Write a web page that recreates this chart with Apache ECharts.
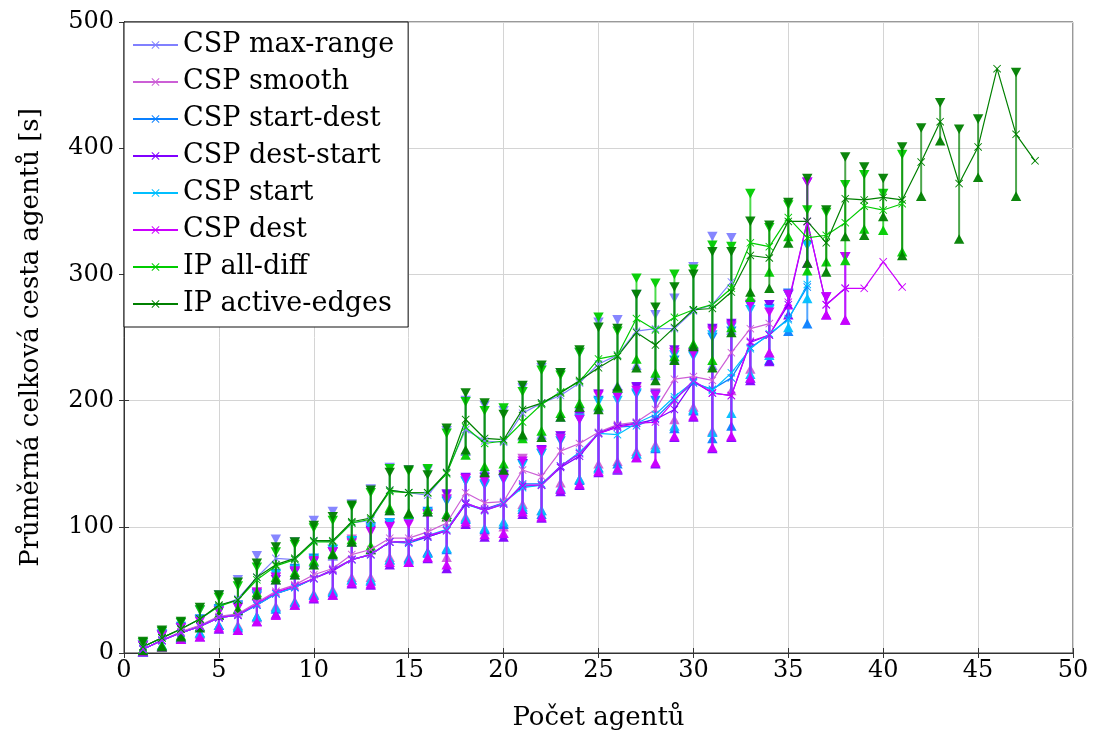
<!DOCTYPE html>
<html>
<head>
<meta charset="utf-8">
<script src="https://cdn.jsdelivr.net/npm/echarts@6/dist/echarts.min.js"></script>
<style>
html,body{margin:0;padding:0;background:#fff;}
#chart{width:1100px;height:738px;}
</style>
</head>
<body>
<div id="chart"></div>
<script>
// ---------- data ----------
const agents = [1,2,3,4,5,6,7,8,9,10,11,12,13,14,15,16,17,18,19,20,21,22,23,24,25,26,27,28,29,30,31,32,33,34,35,36,37,38,39,40,41,42,43,44,45,46,47,48];
const seriesNames = ['CSP max-range','CSP smooth','CSP start-dest','CSP dest-start','CSP start','CSP dest','IP all-diff','IP active-edges'];
const xTicks = [0,5,10,15,20,25,30,35,40,45,50];
const yTicks = [0,100,200,300,400,500];

const maxRangeMean = [5,12,19,27,37,43,60,75,74,89,88,103,105,129,127,125,143,177,168,167,190,198,204,214,229,236,255,257,257,271,276,294];
const maxRangeHigh = [8,17,24,34,46,58,77,90,88,105,112,118,130,147,145,145,176,200,196,192,210,226,222,238,262,264,284,268,281,306,330,329];
const maxRangeLow  = [2,6,13,21,30,33,45,58,62,72,77,88,82,113,110,112,110,160,146,147,172,173,187,197,195,212,228,220,233,244,228,256];

const smoothMean = [3,10,17,22,29,31,40,49,54,62,67,78,82,91,91,96,103,127,119,120,145,140,160,166,175,181,183,193,217,219,216,238,257,261];
const smoothHigh = [6,14,20,26,34,37,48,60,65,74,80,90,98,103,104,110,125,138,137,139,154,160,172,187,205,204,210,206,238,236,256,260,277,276];
const smoothLow  = [1,6,12,15,22,22,28,37,41,47,50,60,60,76,76,80,76,108,97,100,118,113,135,138,150,152,160,165,185,195,176,208,225,238];

const startDestMean = [3,10,16,21,28,30,38,47,52,59,66,74,78,88,87,92,97,118,113,118,134,134,148,158,174,179,180,186,201,214,209,218,242,252,265,290];
const startDestHigh = [6,15,21,27,35,38,47,63,67,75,82,89,100,103,104,112,120,136,133,138,150,158,168,185,200,203,205,200,232,236,250,255,275,273,285,323];
const startDestLow  = [1,6,12,16,22,20,29,35,40,46,48,58,57,74,75,80,82,106,98,102,114,110,130,137,147,150,158,162,178,192,170,180,218,232,255,261];

const destStartMean = [3,10,16,21,28,30,38,47,52,59,65,74,78,88,88,92,97,118,114,119,132,133,147,156,174,180,182,185,193,215,206,204,246,252,276,342,276,289];
const destStartHigh = [6,14,20,26,33,36,45,58,64,72,80,88,97,101,103,110,126,139,139,141,150,161,172,188,205,205,211,205,240,238,257,261,276,276,284,373,282,314];
const destStartLow  = [1,5,11,13,19,18,25,31,38,43,46,55,54,70,72,75,67,102,92,92,110,107,128,133,143,145,155,150,171,187,162,171,216,231,268,309,268,264];

const startMean = [3,10,16,21,28,30,38,47,52,59,66,74,78,88,88,93,98,119,113,119,131,133,148,159,174,173,182,189,203,215,208,222,241,253,264,292];
const startHigh = [6,14,20,26,34,37,46,62,66,74,82,89,99,103,104,111,121,136,134,137,149,158,170,186,199,200,206,204,236,235,252,258,272,272,284,323];
const startLow  = [1,6,12,16,22,21,29,36,40,46,49,58,58,74,74,79,83,107,99,104,116,113,131,138,146,146,158,163,180,193,175,190,221,236,258,281];

const destMean = [3,10,16,21,28,30,39,48,53,59,66,74,78,88,88,93,97,119,113,118,133,133,148,158,174,179,182,183,200,216,206,204,247,252,278,342,276,289,289,310,290];
const destHigh = [6,14,20,25,33,36,48,60,65,73,80,87,96,100,102,110,122,138,136,138,152,160,170,185,204,203,208,204,238,237,255,259,276,270,284,373,282,314,null,null,null];
const destLow  = [1,5,11,13,20,18,25,30,38,44,46,56,55,72,72,76,70,104,94,95,112,108,130,134,144,146,155,151,172,188,163,172,218,238,276,309,268,264,null,null,null];

const allDiffMean = [5,12,19,27,37,42,58,69,74,88,88,103,106,128,127,127,142,179,166,168,183,197,207,215,233,236,265,256,266,272,276,289,325,322,345,329,331,341,354,351,356];
const allDiffHigh = [8,17,24,34,44,53,68,80,86,99,105,116,127,146,144,146,174,199,192,194,207,224,220,238,266,255,297,293,300,304,323,322,364,337,355,351,349,371,379,364,395];
const allDiffLow  = [3,6,14,21,31,35,48,60,64,73,79,90,85,115,110,114,110,157,148,150,170,176,190,198,196,210,233,222,235,245,232,258,282,302,330,303,310,311,336,335,318];

const activeEdgesMean = [5,12,19,27,38,42,60,70,75,89,89,104,107,129,127,127,143,185,170,169,193,198,206,216,226,235,254,244,258,272,273,286,315,313,342,342,325,360,359,361,359,389,421,372,401,463,411,390];
const activeEdgesHigh = [9,18,25,36,46,56,71,84,88,101,108,117,129,143,145,141,178,206,198,189,212,228,222,240,258,257,284,274,290,300,318,318,342,339,357,376,351,393,385,376,401,416,436,415,423,null,460,null];
const activeEdgesLow  = [2,5,13,20,30,34,46,58,62,70,78,88,82,113,111,112,108,161,143,145,173,171,187,195,193,211,226,216,232,243,226,254,286,289,325,309,302,330,331,346,315,362,406,328,377,null,362,null];

const means = [maxRangeMean, smoothMean, startDestMean, destStartMean, startMean, destMean, allDiffMean, activeEdgesMean];
const highs = [maxRangeHigh, smoothHigh, startDestHigh, destStartHigh, startHigh, destHigh, allDiffHigh, activeEdgesHigh];
const lows  = [maxRangeLow, smoothLow, startDestLow, destStartLow, startLow, destLow, allDiffLow, activeEdgesLow];

// ---------- style ----------
const colors = ['#8080ff','#cc5fd6','#0a80ff','#8000ff','#00bfff','#cc00ff','#00cc00','#008000'];
const FONT = 'DejaVu Serif';
const xSymbol = 'path://M0,0.8L0.8,0L5,4.2L9.2,0L10,0.8L5.8,5L10,9.2L9.2,10L5,5.8L0.8,10L0,9.2L4.2,5Z';

function errRender(color){
  return function(params, api){
    const x = api.value(0), hi = api.value(1), lo = api.value(2);
    if (hi == null || lo == null || isNaN(hi) || isNaN(lo)) return null;
    const pH = api.coord([x, hi]);
    const pL = api.coord([x, lo]);
    const w = 5.2, h = 4.8;
    return {
      type: 'group',
      children: [
        {type:'line', shape:{x1:pH[0], y1:pH[1], x2:pL[0], y2:pL[1]}, style:{stroke:color, lineWidth:2, opacity:0.7}},
        {type:'polygon', shape:{points:[[pH[0]-w,pH[1]-h],[pH[0]+w,pH[1]-h],[pH[0],pH[1]+h]]}, style:{fill:color, opacity:0.95}},
        {type:'polygon', shape:{points:[[pL[0]-w,pL[1]+h],[pL[0]+w,pL[1]+h],[pL[0],pL[1]-h]]}, style:{fill:color, opacity:0.95}}
      ]
    };
  };
}

const series = [];
seriesNames.forEach(function(name, i){
  const errData = [];
  const lineData = [];
  means[i].forEach(function(m, k){
    lineData.push([agents[k], m]);
    errData.push([agents[k], highs[i][k], lows[i][k]]);
  });
  series.push({
    name: name + ' (err)',
    type: 'custom',
    renderItem: errRender(colors[i]),
    data: errData,
    encode: {x: 0, y: [1, 2]},
    silent: true,
    z: 2
  });
  series.push({
    name: name,
    type: 'line',
    data: lineData,
    symbol: xSymbol,
    symbolSize: 8,
    showSymbol: true,
    lineStyle: {color: colors[i], width: 1.2},
    itemStyle: {color: colors[i]},
    z: 2
  });
});

const chart = echarts.init(document.getElementById('chart'), null, {renderer: 'canvas'});
chart.setOption({
  animation: false,
  backgroundColor: '#fff',
  grid: {left: 124, right: 27, top: 22, bottom: 85, show: true, borderColor: '#333', borderWidth: 1, containLabel: false},
  legend: {
    data: seriesNames,
    orient: 'vertical',
    left: 124, top: 22,
    backgroundColor: '#fff',
    borderColor: '#111', borderWidth: 1,
    padding: [8, 14, 8, 8],
    itemWidth: 45, itemHeight: 10, itemGap: 7,
    textStyle: {fontFamily: FONT, fontSize: 27, color: '#000', lineHeight: 30},
    z: 10
  },
  xAxis: [{
    type: 'value', min: xTicks[0], max: xTicks[xTicks.length-1], interval: 5,
    name: 'Počet agentů', nameLocation: 'middle', nameGap: 52,
    nameTextStyle: {fontFamily: FONT, fontSize: 26, color: '#000'},
    axisLine: {show: true, lineStyle: {color: '#333'}},
    axisTick: {show: true, inside: true, length: 5, lineStyle: {color: '#333'}},
    axisLabel: {fontFamily: FONT, fontSize: 24, color: '#000', margin: 6},
    splitLine: {show: true, lineStyle: {color: '#d4d4d4', width: 1}}
  },{
    type: 'value', position: 'top', min: xTicks[0], max: xTicks[xTicks.length-1], interval: 5,
    axisLine: {show: true, lineStyle: {color: '#333'}},
    axisTick: {show: true, inside: true, length: 5, lineStyle: {color: '#333'}},
    axisLabel: {show: false}, splitLine: {show: false}
  }],
  yAxis: [{
    type: 'value', min: yTicks[0], max: yTicks[yTicks.length-1], interval: 100,
    name: 'Průměrná celková cesta agentů [s]', nameLocation: 'middle', nameGap: 80,
    nameTextStyle: {fontFamily: FONT, fontSize: 26, color: '#000'},
    axisLine: {show: true, lineStyle: {color: '#333'}},
    axisTick: {show: true, inside: true, length: 5, lineStyle: {color: '#333'}},
    axisLabel: {fontFamily: FONT, fontSize: 24, color: '#000', margin: 10},
    splitLine: {show: true, lineStyle: {color: '#d4d4d4', width: 1}}
  },{
    type: 'value', position: 'right', min: yTicks[0], max: yTicks[yTicks.length-1], interval: 100,
    axisLine: {show: true, lineStyle: {color: '#333'}},
    axisTick: {show: true, inside: true, length: 5, lineStyle: {color: '#333'}},
    axisLabel: {show: false}, splitLine: {show: false}
  }],
  series: series
});
</script>
</body>
</html>
